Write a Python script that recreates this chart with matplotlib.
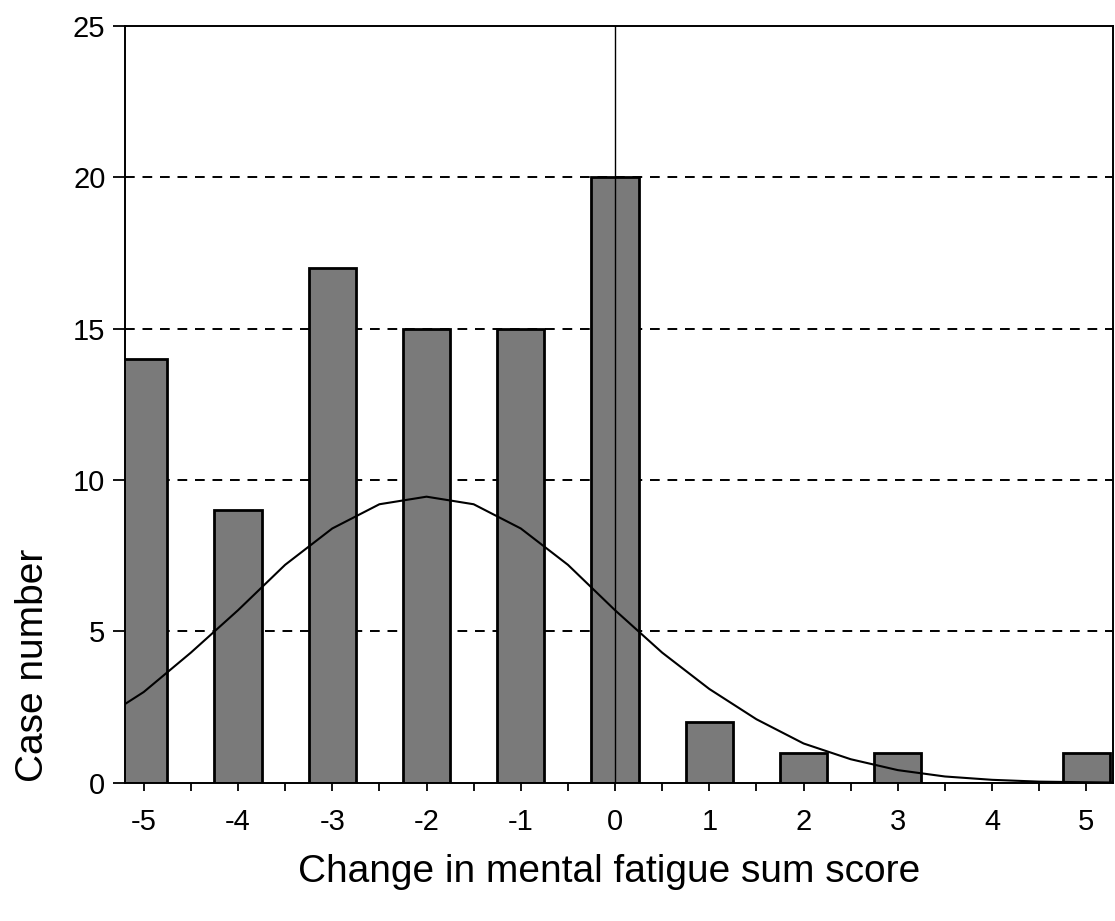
import numpy as np
import matplotlib
matplotlib.use("Agg")
import matplotlib.pyplot as plt

plt.rcParams['font.family'] = ['Liberation Sans', 'DejaVu Sans']
plt.rcParams['axes.unicode_minus'] = False

# histogram of change scores
change = [-5, -4, -3, -2, -1, 0, 1, 2, 3, 4, 5]
cases = [14, 9, 17, 15, 15, 20, 2, 1, 1, 0, 1]

# fitted normal curve
curve_x = [-5.2, -5.0, -4.5, -4.0, -3.5, -3.0, -2.5, -2.0, -1.5, -1.0, -0.5,
           0.0, 0.5, 1.0, 1.5, 2.0, 2.5, 3.0, 3.5, 4.0, 4.5, 5.0, 5.3]
curve_y = [2.6, 3.0, 4.3, 5.7, 7.2, 8.4, 9.2, 9.45, 9.2, 8.4, 7.2,
           5.7, 4.3, 3.1, 2.1, 1.3, 0.78, 0.42, 0.21, 0.1, 0.04, 0.02, 0.01]

yticks = [0, 5, 10, 15, 20, 25]
grid_levels = [5, 10, 15, 20]

fig = plt.figure(figsize=(11.15, 9.21), dpi=100)
ax = fig.add_axes([0.112, 0.150, 0.886, 0.822])

for g in grid_levels:
    ax.axhline(g, color='black', lw=1.4, ls=(0, (5, 4)), zorder=1)

ax.bar(change, cases, width=0.5, color='#7a7a7a', edgecolor='black',
       linewidth=2.0, zorder=2)
ax.axvline(0, color='black', lw=1.0, zorder=3)
ax.plot(curve_x, curve_y, color='black', lw=1.5, zorder=4)

ax.set_xlim(-5.2, 5.28)
ax.set_ylim(0, 25)
ax.set_xticks(change)
ax.set_xticks(np.arange(-4.5, 5, 1.0), minor=True)
ax.set_yticks(yticks)
ax.tick_params(axis='x', which='both', direction='out', length=6, width=1.3,
               pad=12, labelsize=21)
ax.tick_params(axis='y', direction='out', length=9, width=1.3, pad=5,
               labelsize=21)
for s in ax.spines.values():
    s.set_linewidth(1.4)

fig.text(609 / 1115, 1 - 872 / 921, 'Change in mental fatigue sum score',
         fontsize=28, ha='center', va='center')
fig.text(33 / 1115, 1 - 665 / 921, 'Case number', fontsize=28,
         rotation=90, ha='center', va='center')

fig.savefig('out.png', dpi=100)
